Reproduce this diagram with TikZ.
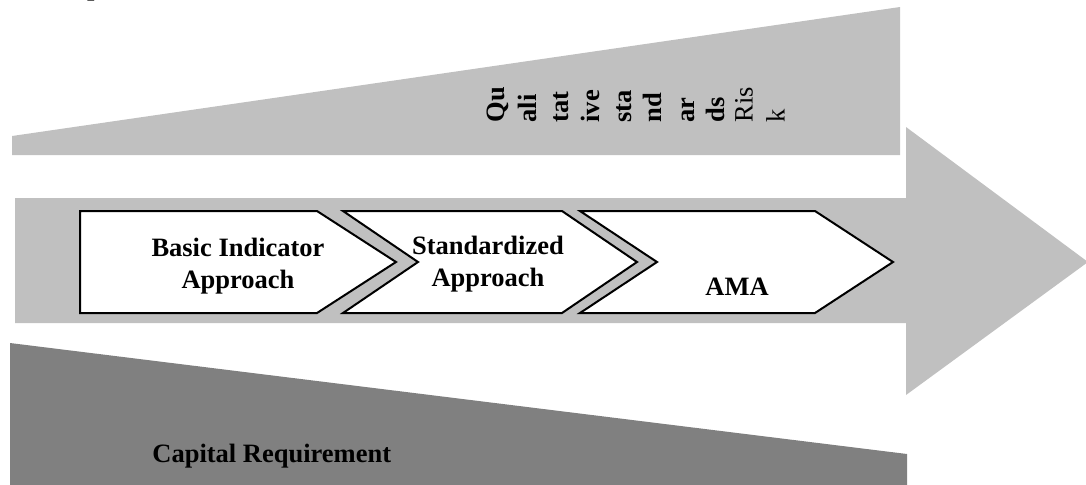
\documentclass[tikz,border=0pt]{standalone}
\usepackage{fontspec}
\setmainfont{Liberation Serif}
\definecolor{lightband}{HTML}{C0C0C0}
\definecolor{darkband}{HTML}{808080}
\begin{document}
\begin{tikzpicture}[x=0.5pt,y=-0.5pt,
  lbl/.style={font=\fontsize{13.25}{16}\selectfont\bfseries, inner sep=0pt, align=center},
  vlbl/.style={font=\fontsize{13.25}{16}\selectfont, inner sep=0pt, rotate=90, anchor=mid west},
  stepbox/.style={fill=white, draw=black, line width=1pt, line join=miter}]
\useasboundingbox (0,0) rectangle (1086,484);
\clip (0,0) rectangle (1086,484);

% title line, cut by the top edge
\node[lbl, anchor=base east] (title) at (262,-5) {Basel II and Operational Risk};

% upper wedge: qualitative standards
\fill[lightband] (12,136) -- (900,7) -- (900,155) -- (12,155) -- cycle;
% central arrow
\fill[lightband] (15,198) -- (906,198) -- (906,127) -- (1088,262) -- (906,395)
  -- (906,323) -- (15,323) -- cycle;
% lower wedge: capital requirement
\fill[darkband] (10,343) -- (907,454) -- (907,490) -- (10,490) -- cycle;

% approach chevrons
\draw[stepbox] (80,211) -- (317,211) -- (396,262) -- (317,313) -- (80,313) -- cycle;
\draw[stepbox] (343,211) -- (562,211) -- (637,262) -- (562,313) -- (343,313) -- (418,262) -- cycle;
\draw[stepbox] (580,211) -- (815,211) -- (893,262) -- (815,313) -- (580,313) -- (657,262) -- cycle;

% the base anchor of a two-line node is the baseline of its last line
\node[lbl, anchor=base] (bia) at (238,288) {Basic Indicator\\Approach};
\node[lbl, anchor=base] (sa) at (488,286) {Standardized\\Approach};
\node[lbl, anchor=base] (ama) at (737,295) {AMA};
\node[lbl, anchor=base west] (cap) at (152,462) {Capital Requirement};

% vertical label in the upper wedge
\foreach \cx/\txt/\nm in {500/Qu/q1, 532/ali/q2, 564/tat/q3, 595/ive/q4, 627/sta/q5,
                          657/nd/q6, 690/ar/q7, 720/ds/q8}
  \node[vlbl, font=\fontsize{13.25}{16}\selectfont\bfseries] (\nm) at (\cx,123) {\txt};
\node[vlbl] (r1) at (748,123) {Ris};
\node[vlbl] (r2) at (780,123) {k};
\end{tikzpicture}
\end{document}
